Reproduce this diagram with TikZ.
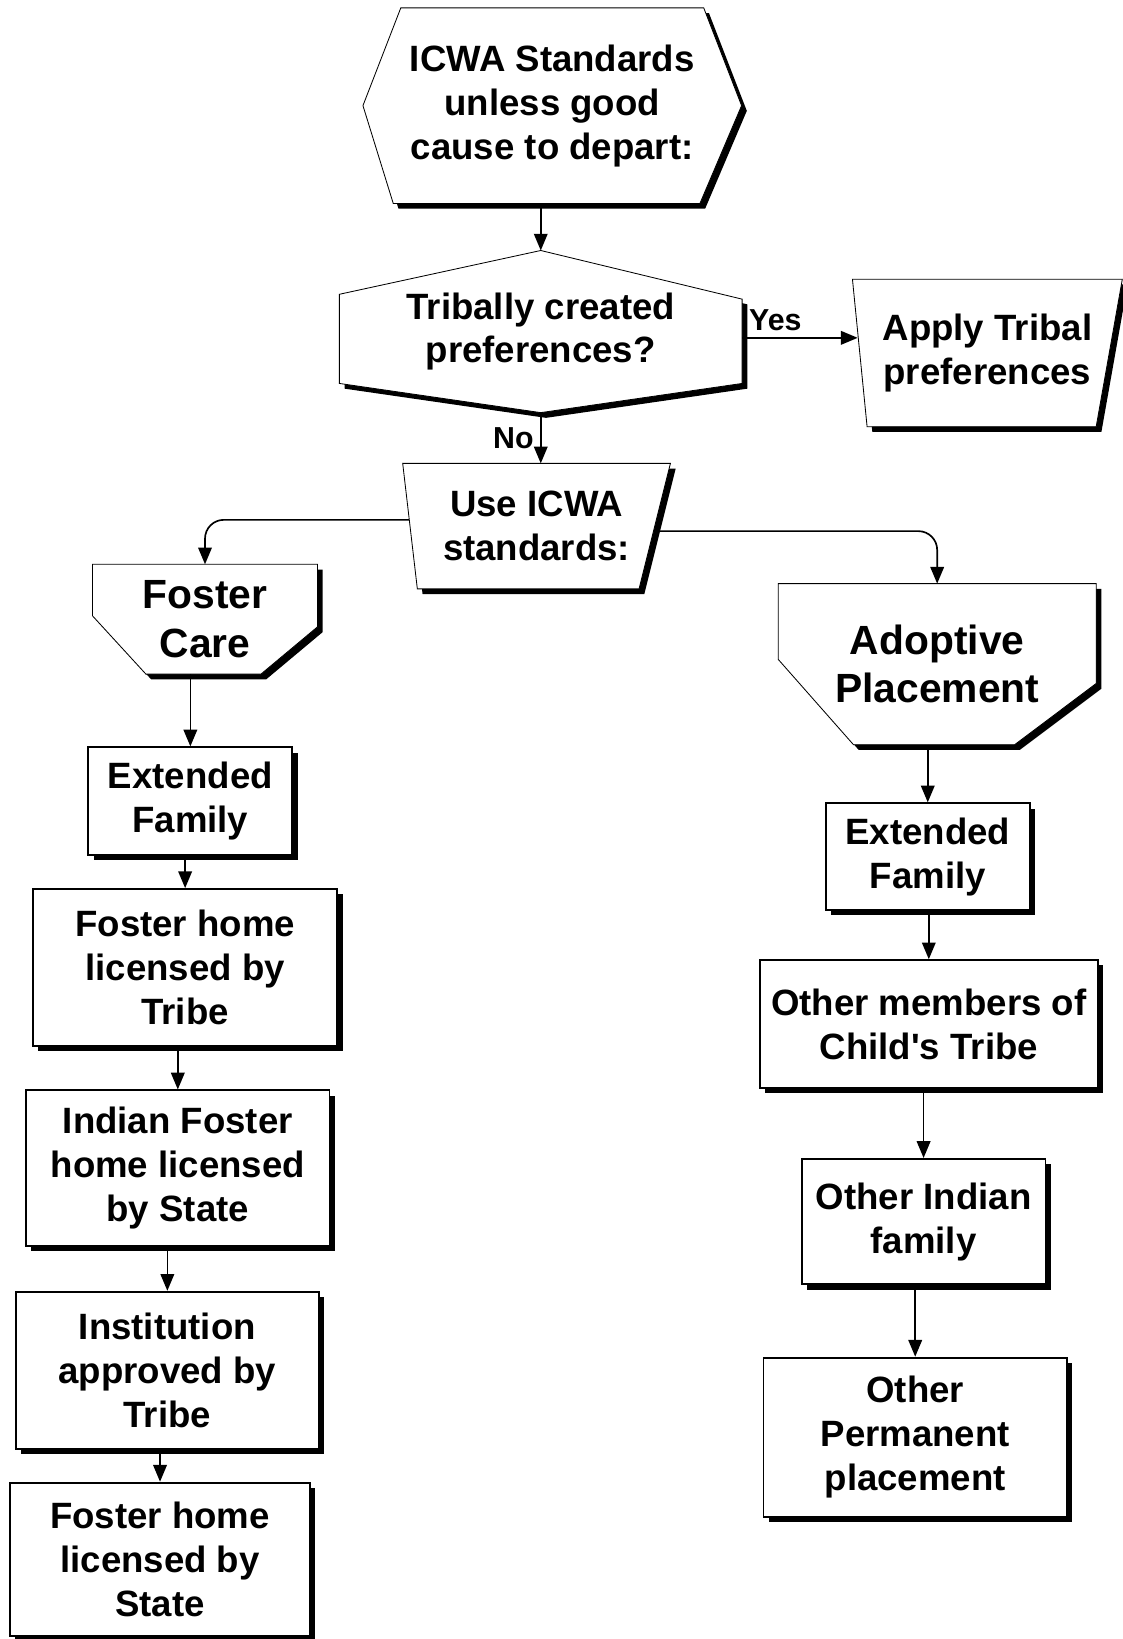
\documentclass[tikz,border=0pt]{standalone}
\usepackage{fontspec}
\setmainfont{Liberation Sans}
\usetikzlibrary{arrows.meta,calc,shadows,backgrounds}

\begin{document}
\begin{tikzpicture}[x=0.5pt,y=-0.5pt,line width=0.9pt,
>={Triangle[length=8pt,width=6.5pt]},
txt/.style={align=center,font=\fontsize{17.5}{21}\selectfont\bfseries},
bigtxt/.style={align=center,font=\fontsize{19.5}{23}\selectfont\bfseries},
lbl/.style={font=\fontsize{14.5}{16}\selectfont\bfseries,inner sep=3pt},
blank/.style={outer sep=0pt,inner sep=0pt},
sh/.style={draw,fill=white,drop shadow={shadow xshift=2.5pt,shadow yshift=-2.5pt,fill=black,opacity=1}},
bx/.style={txt,sh,inner sep=2pt}]
\useasboundingbox (0,0) rectangle (1073,1567);
% top of the chart
\node[txt,blank,minimum width=181pt,minimum height=93.5pt] (icwa) at (528,101) {ICWA Standards\\unless good\\cause to depart:};
\node[txt,blank,minimum width=192.5pt,minimum height=77.5pt] (tribal) at (517,317) {Tribally created\\preferences?};
\node[txt,blank,minimum width=129pt,minimum height=70.5pt] (apply) at (944,337.5) {Apply Tribal\\preferences};
\node[txt,blank,minimum width=128pt,minimum height=60pt] (use) at (513,503) {Use ICWA\\standards:};
\node[bigtxt,blank,minimum width=107.5pt,minimum height=52.5pt] (foster) at (196,592) {Foster\\Care};
\node[bigtxt,blank,minimum width=152pt,minimum height=77pt] (adopt) at (896,635) {Adoptive\\Placement};
% outlines
\begin{scope}[on background layer]
\fill[white] (0,0) rectangle (1073,1567);
\draw[sh] (icwa.west) -- ($(icwa.north west)!.1!(icwa.north east)$) -- ($(icwa.north west)!.9!(icwa.north east)$)
  -- (icwa.east) -- ($(icwa.south west)!.89!(icwa.south east)$) -- ($(icwa.south west)!.08!(icwa.south east)$) -- cycle;
\draw[sh] (tribal.north) -- ($(tribal.north east)!.3!(tribal.south east)$) -- ($(tribal.north east)!.82!(tribal.south east)$)
  -- (tribal.south) -- ($(tribal.north west)!.82!(tribal.south west)$) -- ($(tribal.north west)!.27!(tribal.south west)$) -- cycle;
\draw[sh] (apply.north west) -- (apply.north east) -- ($(apply.south east)+(-25,0)$) -- ($(apply.south west)+(14,0)$) -- cycle;
\draw[sh] (use.north west) -- (use.north east) -- ($(use.south east)+(-30,0)$) -- ($(use.south west)+(14,0)$) -- cycle;
\draw[sh] (foster.north west) -- (foster.north east) -- ($(foster.north east)!.57!(foster.south east)$)
  -- ($(foster.south east)+(-54,0)$) -- ($(foster.south west)+(51,0)$) -- ($(foster.north west)!.47!(foster.south west)$) -- cycle;
\draw[sh] (adopt.north west) -- (adopt.north east) -- ($(adopt.north east)!.62!(adopt.south east)$)
  -- ($(adopt.south east)+(-78,0)$) -- ($(adopt.south west)+(72,0)$) -- ($(adopt.north west)!.47!(adopt.south west)$) -- cycle;
\end{scope}
% foster care column
\node[bx,minimum width=97.5pt,minimum height=51.5pt] (fext) at (182,766) {Extended\\Family};
\node[bx,minimum width=145.5pt,minimum height=75pt] (ftribe) at (177,925) {Foster home\\licensed by\\Tribe};
\node[bx,minimum width=145pt,minimum height=74.5pt] (fstate) at (170,1117) {Indian Foster\\home licensed\\by State};
\node[bx,minimum width=145pt,minimum height=75pt] (finst) at (160,1310) {Institution\\approved by\\Tribe};
\node[bx,minimum width=143.5pt,minimum height=73.5pt] (fhome) at (153,1491) {Foster home\\licensed by\\State};
% adoptive column
\node[bx,minimum width=97.5pt,minimum height=51pt] (aext) at (887,819) {Extended\\Family};
\node[bx,minimum width=161.5pt,minimum height=61pt] (amembers) at (888,979) {Other members of\\Child\textquotesingle s Tribe};
\node[bx,minimum width=116.5pt,minimum height=60pt] (aindian) at (883,1168) {Other Indian\\family};
\node[bx,minimum width=145pt,minimum height=76pt] (aperm) at (875,1374) {Other\\Permanent\\placement};
% connectors
\draw[->,line width=0.8pt] (tribal.north |- icwa.south) -- (tribal.north);
\draw[->,line width=0.8pt] ([yshift=-3pt]tribal.east) -- ($(tribal.east -| apply.west)+(5,6)$) node[lbl,pos=0,above right]{Yes};
\draw[->,line width=0.8pt] (tribal.south) -- (tribal.south |- use.north) node[lbl,midway,left]{No};
\draw[->,line width=0.8pt,rounded corners=9pt] ($(use.north west)!.45!(use.south west)+(6,0)$) -| (foster.north);
\draw[->,line width=0.8pt,rounded corners=9pt] ($(use.north east)!.54!(use.south east)+(-16,0)$) -| (adopt.north);
\draw[->,line width=0.8pt] (fext.north |- foster.south) -- (fext.north);
\draw[->,line width=0.8pt] (aext.north |- adopt.south) -- (aext.north);
\draw[->,line width=0.8pt] (ftribe.north |- fext.south) -- (ftribe.north);
\draw[->,line width=0.8pt] (fstate.north |- ftribe.south) -- (fstate.north);
\draw[->,line width=0.8pt] (finst.north |- fstate.south) -- (finst.north);
\draw[->,line width=0.8pt] (fhome.north |- finst.south) -- (fhome.north);
\draw[->,line width=0.8pt] (amembers.north |- aext.south) -- (amembers.north);
\draw[->,line width=0.8pt] (aindian.north |- amembers.south) -- (aindian.north);
\draw[->,line width=0.8pt] (aperm.north |- aindian.south) -- (aperm.north);
\end{tikzpicture}
\end{document}
